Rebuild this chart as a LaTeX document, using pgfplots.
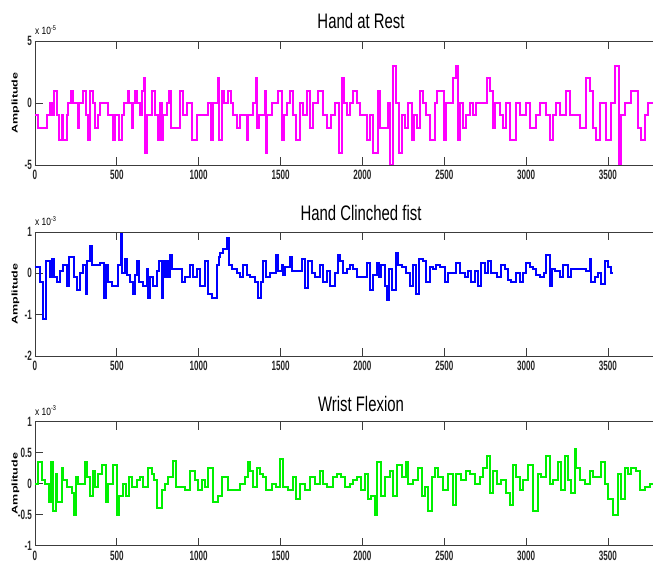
\documentclass[border=0pt]{standalone}
\usepackage{fontspec}
\setmainfont{Liberation Sans}
\usepackage{graphicx}
\usepackage{pgfplots}
\pgfplotsset{compat=1.18}
\definecolor{magC}{RGB}{255,0,255}
\definecolor{bluC}{RGB}{0,0,255}
\definecolor{grnC}{RGB}{0,240,0}
\definecolor{axC}{RGB}{60,60,60}
\newcommand\lbl[1]{\scalebox{0.6}[1]{#1}}
\newcommand\ttl[1]{\scalebox{0.71}[1]{\fontsize{21}{21}\selectfont #1}}
\newcommand\amp{\scalebox{1}[0.66]{\fontsize{12.5}{13}\selectfont\bfseries Amplitude}}
\newcommand\scl[1]{\scalebox{0.8}[1]{\fontsize{10.5}{11}\selectfont x 10\raisebox{4.5pt}{\fontsize{7}{7}\selectfont #1}}}
\pgfplotsset{emg/.style={
  scale only axis, width=618pt, height=124pt, anchor=south west,
  xmin=0, xmax=3775,
  axis x line=box, axis y line=left,
  x axis line style={-}, y axis line style={-},
  axis line style={axC, line width=0.8pt},
  xtick pos=both, ytick pos=left, tick align=inside,
  major tick length=8pt,
  tick style={axC, line width=0.8pt},
  xtick={0,500,1000,1500,2000,2500,3000,3500},
  xticklabels={\lbl{0},\lbl{500},\lbl{1000},\lbl{1500},\lbl{2000},\lbl{2500},\lbl{3000},\lbl{3500}},
  ticklabel style={font=\fontsize{13.5}{13.5}\selectfont\bfseries, text=black!85},
  xticklabel style={anchor=north, inner sep=0pt, yshift=-5pt},
  yticklabel style={anchor=east, inner sep=0pt, xshift=-3pt},
}}
\begin{document}
\begin{tikzpicture}[x=1pt,y=1pt]
\useasboundingbox (0,0) rectangle (653,563);
% ---------------- Hand at Rest ----------------
\begin{axis}[emg, at={(35pt,398pt)}, ymin=-5, ymax=5,
  ytick={-5,0,5}, yticklabels={\lbl{-5},\lbl{0},\lbl{5}}]
\addplot[const plot, draw=magC, line width=2pt] coordinates {
(0,-1) (20,-2) (71,-1) (92,0) (106,-1) (116,1) (136,-1) (149,-3) (163,-1) (169,-3) (193,-1) (204,0) (218,1) (234,0) (260,-2) (267,0) (295,1) (309,-1) (322,-3) (336,1) (352,0) (366,-2) (383,-1) (397,0) (448,-1) (474,-3) (488,-1) (515,-3) (529,-1) (543,0) (570,1) (576,0) (590,-2) (600,0) (611,1) (625,0) (641,-1) (655,1) (665,2) (674,-4) (682,-1) (712,1) (733,-1) (753,-3) (763,0) (777,-3) (783,-1) (804,0) (820,1) (828,-2) (885,1) (901,-1) (926,0) (956,-3) (987,-1) (1058,0) (1074,-3) (1089,0) (1119,2) (1125,-3) (1140,1) (1154,0) (1180,1) (1195,0) (1211,-1) (1231,-2) (1251,-1) (1292,-3) (1302,-1) (1333,0) (1347,2) (1357,-2) (1370,-1) (1404,1) (1414,-4) (1420,-1) (1445,0) (1486,1) (1506,-3) (1520,-1) (1540,0) (1557,1) (1577,-1) (1597,-3) (1618,0) (1634,-1) (1659,1) (1679,-2) (1699,0) (1730,1) (1760,-1) (1781,-2) (1811,-1) (1832,0) (1858,-4) (1878,2) (1887,0) (1903,-1) (1923,0) (1944,1) (1964,0) (1984,-1) (2025,-3) (2045,-1) (2066,-4) (2096,1) (2106,-2) (2157,0) (2171,-5) (2188,3) (2208,0) (2224,-4) (2239,-1) (2259,-2) (2279,0) (2300,-3) (2314,-1) (2334,-2) (2351,1) (2371,0) (2391,-1) (2412,-3) (2442,0) (2456,1) (2497,-3) (2513,0) (2554,2) (2570,3) (2585,-3) (2595,0) (2615,-2) (2635,-1) (2656,0) (2676,-1) (2696,0) (2758,2) (2782,1) (2798,-2) (2808,0) (2839,-1) (2859,-2) (2880,0) (2900,-3) (2941,0) (2961,-1) (3002,0) (3022,-2) (3063,-1) (3083,0) (3124,-1) (3144,-3) (3165,-1) (3185,0) (3205,-1) (3246,1) (3266,-1) (3327,-2) (3368,2) (3392,1) (3409,-2) (3429,-3) (3449,0) (3490,-3) (3521,0) (3541,3) (3565,-5) (3582,-1) (3602,0) (3643,1) (3683,-2) (3704,-3) (3724,-1) (3744,0) (3780,0)
};
\end{axis}
% ---------------- Hand Clinched fist ----------------
\begin{axis}[emg, at={(35pt,207pt)}, ymin=-2, ymax=1,
  ytick={-2,-1,0,1}, yticklabels={\lbl{-2},\lbl{-1},\lbl{0},\lbl{1}}]
\addplot[const plot, draw=bluC, line width=2pt] coordinates {
(0,0.15) (31,-0.2) (51,-1.1) (67,0.3) (92,-0.1) (102,0.35) (116,-0.1) (132,-0.2) (153,0.05) (173,0.2) (193,-0.3) (210,0.4) (238,-0.1) (254,-0.4) (275,0) (291,0.2) (311,-0.5) (319,0.3) (336,0.65) (346,0.2) (397,0.25) (421,-0.6) (433,0.2) (448,-0.2) (468,-0.3) (509,0.2) (523,0.95) (529,0) (549,0.35) (560,-0.05) (580,-0.2) (600,-0.5) (611,-0.05) (625,0.3) (637,-0.2) (661,-0.3) (682,0.1) (692,-0.6) (702,-0.1) (722,-0.3) (743,0.05) (759,0.3) (773,-0.6) (783,0.3) (794,-0.1) (804,0.3) (814,-0.1) (824,0.45) (834,0.1) (895,-0.2) (916,-0.1) (946,0.2) (967,-0.1) (987,0.1) (1007,-0.3) (1038,0.3) (1058,-0.5) (1079,-0.6) (1109,0.2) (1125,0.4) (1133,0.5) (1150,0.6) (1170,0.85) (1182,0.2) (1201,0.1) (1231,0) (1251,-0.1) (1272,0.2) (1292,-0.05) (1313,-0.1) (1343,-0.2) (1363,-0.6) (1378,-0.2) (1394,0.3) (1414,-0.1) (1435,0) (1475,0.45) (1486,0.05) (1506,0.2) (1516,-0.05) (1526,0.15) (1557,0.4) (1567,0.05) (1628,0.35) (1648,-0.35) (1669,0.3) (1689,0) (1709,-0.1) (1740,0.2) (1760,-0.2) (1781,0.05) (1801,-0.3) (1832,0) (1852,0.45) (1866,0.3) (1882,0) (1903,0.1) (1923,0.2) (1944,0.1) (1964,-0.1) (2025,0.25) (2045,-0.4) (2066,-0.05) (2086,0.25) (2102,-0.1) (2116,0.2) (2137,-0.3) (2151,-0.65) (2163,0.1) (2178,-0.4) (2204,0.5) (2218,0.2) (2239,0.15) (2269,0) (2289,-0.3) (2310,0.2) (2330,-0.5) (2346,0.35) (2371,0.3) (2391,-0.2) (2412,0.15) (2432,0.1) (2452,0.2) (2473,0.15) (2503,-0.2) (2523,0) (2574,0.25) (2595,0) (2625,-0.1) (2646,0.05) (2666,-0.2) (2686,0.05) (2707,-0.3) (2727,0.25) (2747,0) (2768,0.3) (2788,0) (2819,-0.1) (2849,0.2) (2869,0.1) (2890,-0.15) (2910,-0.2) (2941,0) (2961,-0.2) (2981,0) (3002,0.25) (3022,0.15) (3042,0.1) (3063,-0.05) (3083,-0.1) (3108,0) (3124,0.45) (3144,-0.3) (3158,0.1) (3175,0.05) (3205,-0.1) (3226,0.2) (3256,-0.1) (3276,0.1) (3368,0.05) (3388,0.35) (3398,-0.2) (3419,-0.1) (3439,0) (3460,-0.25) (3480,0.3) (3500,0.15) (3521,0) (3528,0)
};
\end{axis}
% ---------------- Wrist Flexion ----------------
\begin{axis}[emg, at={(35pt,17.5pt)}, ymin=-1, ymax=1,
  ytick={-1,-0.5,0,0.5,1}, yticklabels={\lbl{-1},\lbl{-0.5},\lbl{0},\lbl{0.5},\lbl{1}}]
\addplot[const plot, draw=grnC, line width=2pt] coordinates {
(0,0) (20,0.35) (41,0.05) (61,0) (88,-0.3) (96,0.35) (108,-0.45) (128,0.15) (136,-0.3) (163,0.25) (173,0.05) (193,-0.05) (224,-0.15) (238,-0.5) (250,0.1) (265,0) (305,0.35) (315,0.1) (336,-0.2) (356,0.2) (366,-0.05) (387,0.15) (407,0.3) (433,-0.3) (448,0) (478,0.3) (499,-0.5) (513,-0.2) (539,0) (556,-0.2) (576,0.1) (590,-0.05) (621,0.05) (641,0.1) (661,-0.05) (692,0.25) (712,0.15) (726,0.05) (743,-0.4) (773,-0.1) (794,0) (814,0.1) (840,0.37) (861,-0.05) (916,-0.1) (946,0.2) (977,0.05) (997,-0.1) (1018,0.05) (1038,-0.05) (1058,0.25) (1089,-0.3) (1119,-0.2) (1140,0.1) (1180,-0.1) (1251,0) (1282,0.1) (1302,0.35) (1313,0.2) (1333,-0.05) (1353,0.25) (1374,0.15) (1394,0.1) (1414,-0.1) (1445,0) (1475,-0.05) (1496,0.4) (1516,-0.05) (1547,-0.1) (1577,0.1) (1597,-0.25) (1618,0) (1648,-0.1) (1679,0.1) (1709,0) (1740,0.2) (1760,0) (1781,-0.05) (1821,0.1) (1842,0.15) (1872,0.1) (1893,-0.05) (1923,0) (1944,0.05) (1964,0.1) (1994,-0.1) (2015,0.15) (2035,-0.25) (2055,-0.2) (2076,-0.5) (2086,0.35) (2116,-0.2) (2137,0.1) (2167,0.2) (2188,-0.2) (2212,0.3) (2239,0.1) (2265,0.35) (2279,0) (2310,0.05) (2340,0.25) (2361,-0.2) (2381,-0.05) (2401,-0.45) (2422,0.1) (2442,0.25) (2462,0.1) (2493,-0.1) (2523,0.15) (2554,-0.35) (2574,0.15) (2605,0.05) (2635,0.2) (2656,0.15) (2686,0) (2717,0.1) (2737,0.25) (2758,0.45) (2778,-0.15) (2798,0.2) (2819,0) (2849,0.05) (2880,-0.15) (2900,-0.35) (2920,0.3) (2941,0.1) (2961,-0.1) (2981,0.05) (3012,0.3) (3042,-0.45) (3073,0.15) (3093,0.1) (3124,0.45) (3144,0) (3165,0.05) (3195,0.35) (3215,-0.1) (3236,0.45) (3256,0.05) (3276,-0.15) (3297,0.55) (3307,0.25) (3327,0.05) (3358,0) (3388,0.2) (3409,0.1) (3460,0.35) (3480,0) (3500,-0.25) (3531,-0.5) (3561,0.15) (3582,-0.25) (3602,0.25) (3622,0.15) (3643,0.25) (3673,0.2) (3694,-0.1) (3724,-0.05) (3755,0) (3780,0)
};
\end{axis}
% titles, scale labels, y labels
\node[anchor=base, inner sep=0pt] at (361,534) {\ttl{Hand at Rest}};
\node[anchor=base, inner sep=0pt] at (361,342) {\ttl{Hand Clinched fist}};
\node[anchor=base, inner sep=0pt] at (361,152) {\ttl{Wrist Flexion}};
\node[anchor=base west, inner sep=0pt] at (35,528) {\scl{-5}};
\node[anchor=base west, inner sep=0pt] at (35,337) {\scl{-3}};
\node[anchor=base west, inner sep=0pt] at (35,148) {\scl{-3}};
\node[rotate=90, inner sep=0pt] at (15.5,460) {\amp};
\node[rotate=90, inner sep=0pt] at (15.5,269) {\amp};
\node[rotate=90, inner sep=0pt] at (15.5,79.5) {\amp};
\end{tikzpicture}
\end{document}
